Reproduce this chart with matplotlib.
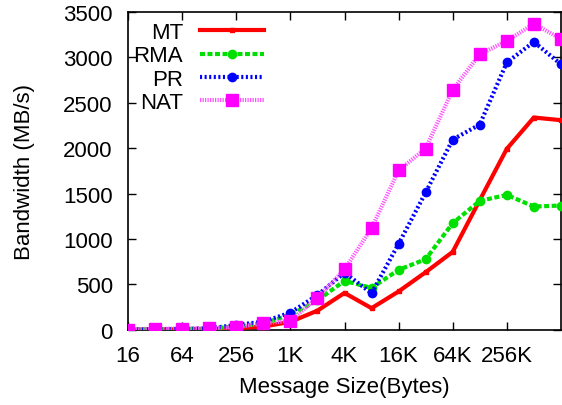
import matplotlib
matplotlib.use("Agg")
from matplotlib import pyplot as plt

plt.rcParams['font.family'] = ['Liberation Sans', 'DejaVu Sans']

# message sizes in bytes, 16 .. 1M
sizes = [16, 32, 64, 128, 256, 512, 1024, 2048, 4096, 8192, 16384, 32768,
         65536, 131072, 262144, 524288, 1048576]

mt = [2, 4, 6, 10, 18, 37, 88, 212, 407, 239, 423, 635, 859, 1428, 1993, 2338, 2309]
rma = [2, 5, 9, 14, 40, 72, 165, 325, 540, 462, 661, 778, 1175, 1420, 1486, 1358, 1369]
pr = [3, 6, 11, 16, 55, 90, 190, 383, 630, 404, 947, 1513, 2096, 2261, 2944, 3171, 2925]
nat = [0, 10, 15, 18, 30, 73, 99, 354, 665, 1120, 1755, 1997, 2642, 3035, 3182, 3369, 3204]

tick_vals = [16, 64, 256, 1024, 4096, 16384, 65536, 262144]
tick_labels = ["16", "64", "256", "1K", "4K", "16K", "64K", "256K"]

fig = plt.figure(figsize=(5.62, 4.06), dpi=100)
ax = fig.add_axes([0.228, 0.185, 0.77, 0.783])

ax.plot(sizes, mt, color="#ff0000", lw=3, marker="s", ms=3, label="MT", zorder=3)
ax.plot(sizes, rma, color="#00e000", lw=3, ls=(0, (1.2, 0.6)), marker="o", ms=6,
        label="RMA", zorder=3)
ax.plot(sizes, pr, color="#0000ff", lw=3, ls=(0, (0.5, 0.6)), marker="o", ms=6,
        label="PR", zorder=3)
ax.plot(sizes, nat, color="#ff55ff", lw=3, ls=(0, (0.3, 0.3)), marker="s", ms=9,
        mfc="#ff00ff", mec="#ff00ff", label="NAT", zorder=3)

ax.set_xscale("log", base=2)
ax.set_xlim(16, 1048576)
ax.set_ylim(0, 3500)
ax.set_xticks(tick_vals)
ax.set_xticklabels(tick_labels)
ax.minorticks_off()
ax.set_yticks(range(0, 3501, 500))

ax.tick_params(direction="in", length=6, width=1, top=True, right=True,
               labelsize=16, pad=11)
for s in ax.spines.values():
    s.set_linewidth(1.2)

ax.set_xlabel("Message Size(Bytes)", fontsize=16, labelpad=7)
ax.set_ylabel("Bandwidth (MB/s)", fontsize=16, labelpad=20)

leg = ax.legend(loc="upper left", bbox_to_anchor=(0.002, 0.982), frameon=False,
                markerfirst=False, fontsize=16, handlelength=2.9,
                handletextpad=0.75, labelspacing=0.1, borderaxespad=0,
                borderpad=0.2)

fig.savefig("out.png", dpi=100)
